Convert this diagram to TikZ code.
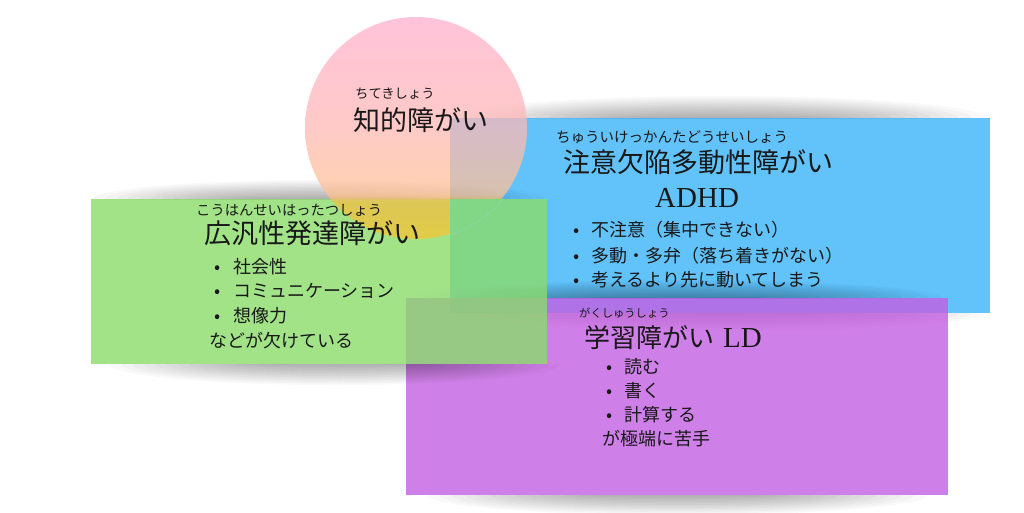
\documentclass[tikz,border=0pt]{standalone}
\usepackage{fontspec}
\setmainfont{Noto Sans CJK JP}
\newfontfamily\latserif{Liberation Serif}

\definecolor{bluebase}{RGB}{59,181,251}
\definecolor{purplebase}{RGB}{196,95,227}
\definecolor{greenbase}{RGB}{139,220,107}
\definecolor{cyA}{RGB}{248,196,50}
\definecolor{cyB}{RGB}{242,190,70}
\definecolor{cpe}{RGB}{255,194,150}
\definecolor{cmid}{RGB}{255,185,181}
\definecolor{ctop}{RGB}{255,176,206}
\definecolor{inkc}{RGB}{24,24,24}

% the path box maps to 25bp..75bp of the shading
\pgfdeclareverticalshading{circgrad}{100bp}{color(0bp)=(cyA); color(25bp)=(cyA); color(33.5bp)=(cyB); color(35bp)=(cpe); color(50bp)=(cmid); color(75bp)=(ctop); color(100bp)=(ctop)}

\tikzset{
  txt/.style={inner sep=0pt, text=inkc, anchor=base west},
  furi/.style={txt},
  titl/.style={txt, font=\fontsize{27}{32}\selectfont},
  item/.style={txt, font=\fontsize{18}{22}\selectfont},
  dot/.style={inner sep=0pt, text=inkc, anchor=base, font=\fontsize{18}{22}\selectfont},
  box/.style={fill opacity=0.8},
  shadowlayer/.style={black, fill opacity=0.022}
}
% soft shadow: #1,#2 centre, #3,#4 semi-axes
\newcommand{\softshadow}[4]{%
  \foreach \k in {1,...,14}{%
    \fill[shadowlayer] (#1,#2) ellipse ({#3*(0.3+0.7*\k/14)} and {#4*\k/14});
  }%
}

\begin{document}
\begin{tikzpicture}[x=1pt,y=-1pt]
\useasboundingbox[fill=white] (0,0) rectangle (1024,512);

% ---- blue (ADHD) ----
\begin{scope}
  \clip (0,0) rectangle (1024,118);
  \softshadow{720}{118}{265}{22}
\end{scope}
\begin{scope}
  \clip (0,313) rectangle (1024,512);
  \softshadow{720}{313}{265}{18}
\end{scope}
\fill[box, bluebase] (450,118) rectangle (990,313);

% ---- purple (LD) ----
\begin{scope}
  \clip (0,0) rectangle (1024,298);
  \softshadow{677}{298}{265}{18}
\end{scope}
\begin{scope}
  \clip (0,495) rectangle (1024,512);
  \softshadow{677}{495}{250}{20}
\end{scope}
\fill[box, purplebase] (406,298) rectangle (948,495);

% ---- green (PDD) ----
\begin{scope}
  \clip (0,0) rectangle (1024,199);
  \softshadow{319}{199}{225}{19}
\end{scope}
\begin{scope}
  \clip (0,364) rectangle (1024,512);
  \softshadow{335}{364}{225}{21}
\end{scope}
\fill[box, greenbase] (91,199) rectangle (547,364);

% ---- circle ----
\shade[shading=circgrad, opacity=0.75] (416,128) circle (111);
% where blue and green overlap, the circle does not show through
\begin{scope}
  \clip (450,199) rectangle (547,298);
  \fill[white] (416,128) circle (112);
  \fill[box, bluebase] (416,128) circle (112);
  \fill[box, greenbase] (416,128) circle (112);
\end{scope}

% ---- texts: circle ----
\node[furi, font=\fontsize{13.3}{15}\selectfont] (furiA) at (355,98) {ちてきしょう};
\node[titl] (titleA) at (353,130) {知的障がい};

% ---- texts: blue ----
\node[furi, font=\fontsize{14.5}{16}\selectfont] (furiB) at (556,142.5) {ちゅういけっかんたどうせいしょう};
\node[titl] (titleB) at (563,172) {注意欠陥多動性障がい};
\node[txt, font=\latserif\fontsize{29}{32}\selectfont] (abbrB) at (655,207.6) {ADHD};
\node[dot] (dB1) at (577,236.8) {•};
\node[item] (iB1) at (591,236.8) {不注意（集中できない）};
\node[dot] (dB2) at (577,262.8) {•};
\node[item] (iB2) at (591,262.8) {多動・多弁（落ち着きがない）};
\node[dot] (dB3) at (577,286.8) {•};
\node[item] (iB3) at (591,286.8) {考えるより先に動いてしまう};

% ---- texts: green ----
\node[furi, font=\fontsize{14.3}{16}\selectfont] (furiC) at (196,215.4) {こうはんせいはったつしょう};
\node[titl] (titleC) at (204,243) {広汎性発達障がい};
\node[dot] (dC1) at (218,273) {•};
\node[item] (iC1) at (233,273) {社会性};
\node[dot] (dC2) at (218,297) {•};
\node[item] (iC2) at (233,297) {コミュニケーション};
\node[dot] (dC3) at (218,322) {•};
\node[item] (iC3) at (233,322) {想像力};
\node[item] (tailC) at (209,347) {などが欠けている};

% ---- texts: purple ----
\node[furi, font=\fontsize{11.3}{13}\selectfont] (furiD) at (579,317.3) {がくしゅうしょう};
\node[txt] (titleD) at (584,347) {\fontsize{26}{30}\selectfont 学習障がい\hspace{9pt}{\latserif\fontsize{29}{32}\selectfont LD}};
\node[dot] (dD1) at (610,373) {•};
\node[item] (iD1) at (624,373) {読む};
\node[dot] (dD2) at (610,397) {•};
\node[item] (iD2) at (624,397) {書く};
\node[dot] (dD3) at (610,421) {•};
\node[item] (iD3) at (624,421) {計算する};
\node[item] (tailD) at (602,445) {が極端に苦手};
\end{tikzpicture}
\end{document}
